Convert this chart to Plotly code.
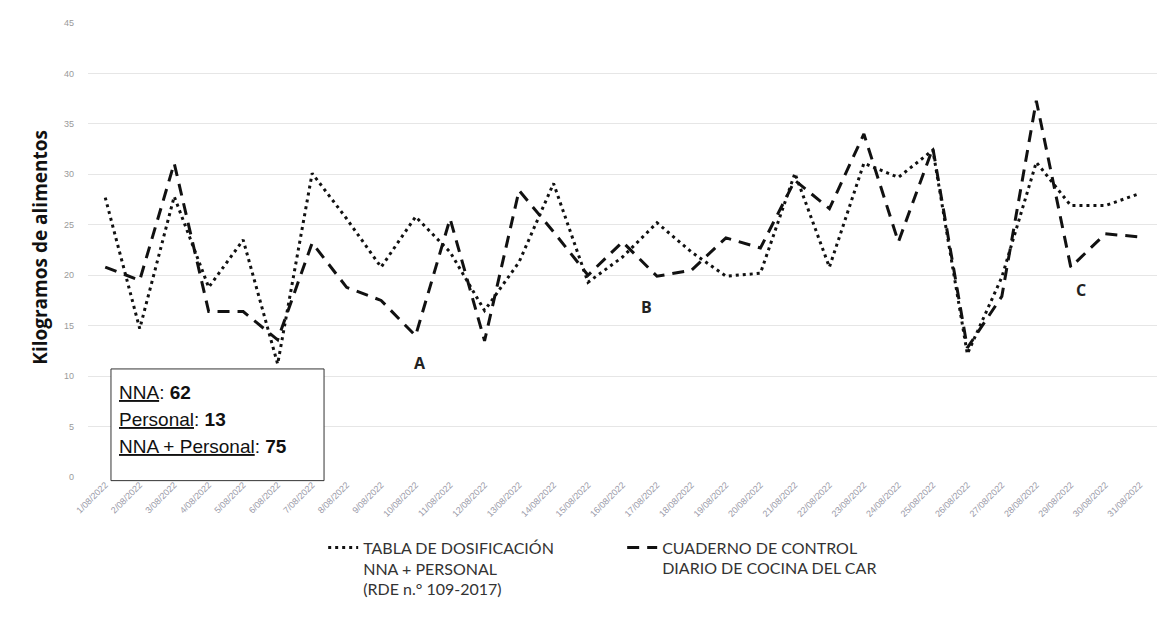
import plotly.graph_objects as go

fechas = [
    "1/08/2022", "2/08/2022", "3/08/2022", "4/08/2022", "5/08/2022", "6/08/2022",
    "7/08/2022", "8/08/2022", "9/08/2022", "10/08/2022", "11/08/2022", "12/08/2022",
    "13/08/2022", "14/08/2022", "15/08/2022", "16/08/2022", "17/08/2022", "18/08/2022",
    "19/08/2022", "20/08/2022", "21/08/2022", "22/08/2022", "23/08/2022", "24/08/2022",
    "25/08/2022", "26/08/2022", "27/08/2022", "28/08/2022", "29/08/2022", "30/08/2022",
    "31/08/2022",
]

# kg segun tabla de dosificacion (NNA + personal)
tabla = [27.7, 14.7, 27.8, 18.8, 23.5, 11.2, 30.1, 25.6, 20.8, 25.8, 22.3, 16.5,
         21.3, 29.1, 19.3, 21.8, 25.2, 22.3, 19.9, 20.2, 30.1, 20.8, 31.1, 29.7,
         32.4, 12.2, 19.8, 31.2, 26.9, 26.9, 28.1]

# kg segun cuaderno de control diario de cocina
cuaderno = [20.8, 19.5, 31.1, 16.4, 16.4, 13.6, 23.2, 18.8, 17.5, 14.0, 25.6, 13.5,
            28.4, 24.3, 20.0, 23.3, 19.9, 20.5, 23.7, 22.7, 29.4, 26.6, 34.0, 23.3,
            32.6, 12.8, 17.9, 37.3, 20.8, 24.1, 23.8]

nombres = [
    "TABLA DE DOSIFICACIÓN<br>NNA + PERSONAL<br>(RDE n.° 109-2017)",
    "CUADERNO DE CONTROL<br>DIARIO DE COCINA DEL CAR",
]

fig = go.Figure()
fig.add_trace(go.Scatter(
    x=fechas, y=tabla, mode="lines", name=nombres[0],
    line=dict(color="#111111", width=3, dash="3px,4px"),
))
fig.add_trace(go.Scatter(
    x=fechas, y=cuaderno, mode="lines", name=nombres[1],
    line=dict(color="#111111", width=3, dash="12px,8px"),
))

fig.update_layout(
    width=1174, height=627,
    margin=dict(l=88, r=17, t=23, b=150),
    paper_bgcolor="white", plot_bgcolor="white",
    font=dict(family="Liberation Sans", color="#222222"),
    showlegend=True,
    legend=dict(
        orientation="h", x=0.22, xanchor="left", y=-0.118, yanchor="top",
        valign="top", entrywidth=254, entrywidthmode="pixels",
        font=dict(family="Lato", size=16, color="#333333"),
        tracegroupgap=0,
    ),
)

fig.update_xaxes(
    type="category", range=[-0.5, 30.5], tickangle=-45,
    showgrid=False, showline=False, zeroline=False,
    tickfont=dict(size=9, color="#9a9aa8"), ticks="",
)
fig.update_yaxes(
    range=[0, 45], dtick=5, showgrid=True, gridcolor="#e6e6e6", gridwidth=1,
    zeroline=False, showline=False, ticks="", ticklabelstandoff=13,
    tickfont=dict(size=9, color="#9a9a9a"),
)

# titulo del eje y
fig.add_annotation(
    text="<b>Kilogramos de alimentos</b>", textangle=-90,
    xref="paper", yref="paper", x=-0.045, y=0.507,
    xanchor="center", yanchor="middle", showarrow=False,
    font=dict(family="Open Sans", size=19, color="#111111"),
)

# recuadro con el numero de comensales
fig.add_shape(
    type="rect", xref="paper", yref="paper",
    x0=0.0215, x1=0.2208, y0=-0.008, y1=0.238,
    line=dict(color="#333333", width=1), fillcolor="white",
)
recuadro = [
    "<u>NNA</u>: <b>62</b>",
    "<u>Personal</u>: <b>13</b>",
    "<u>NNA + Personal</u>: <b>75</b>",
]
for i, linea in enumerate(recuadro):
    fig.add_annotation(
        text=linea, xref="paper", yref="paper",
        x=0.0275, xanchor="left", y=0.187 - i * 0.06, yanchor="middle",
        showarrow=False, font=dict(family="Liberation Sans", size=19, color="#111111"),
    )

# letras A, B, C
letras = ["A", "B", "C"]
letras_x = [0.3106, 0.522, 0.929]
letras_y = [0.251, 0.3744, 0.412]
for t, lx, ly in zip(letras, letras_x, letras_y):
    fig.add_annotation(
        text=f"<b>{t}</b>", xref="paper", yref="paper", x=lx, y=ly,
        xanchor="center", yanchor="middle", showarrow=False,
        font=dict(family="Open Sans", size=16, color="#222222"),
    )

fig.write_html(
    "out.html",
    config={"displayModeBar": False},
    post_script="document.body.style.margin='0';",
)
